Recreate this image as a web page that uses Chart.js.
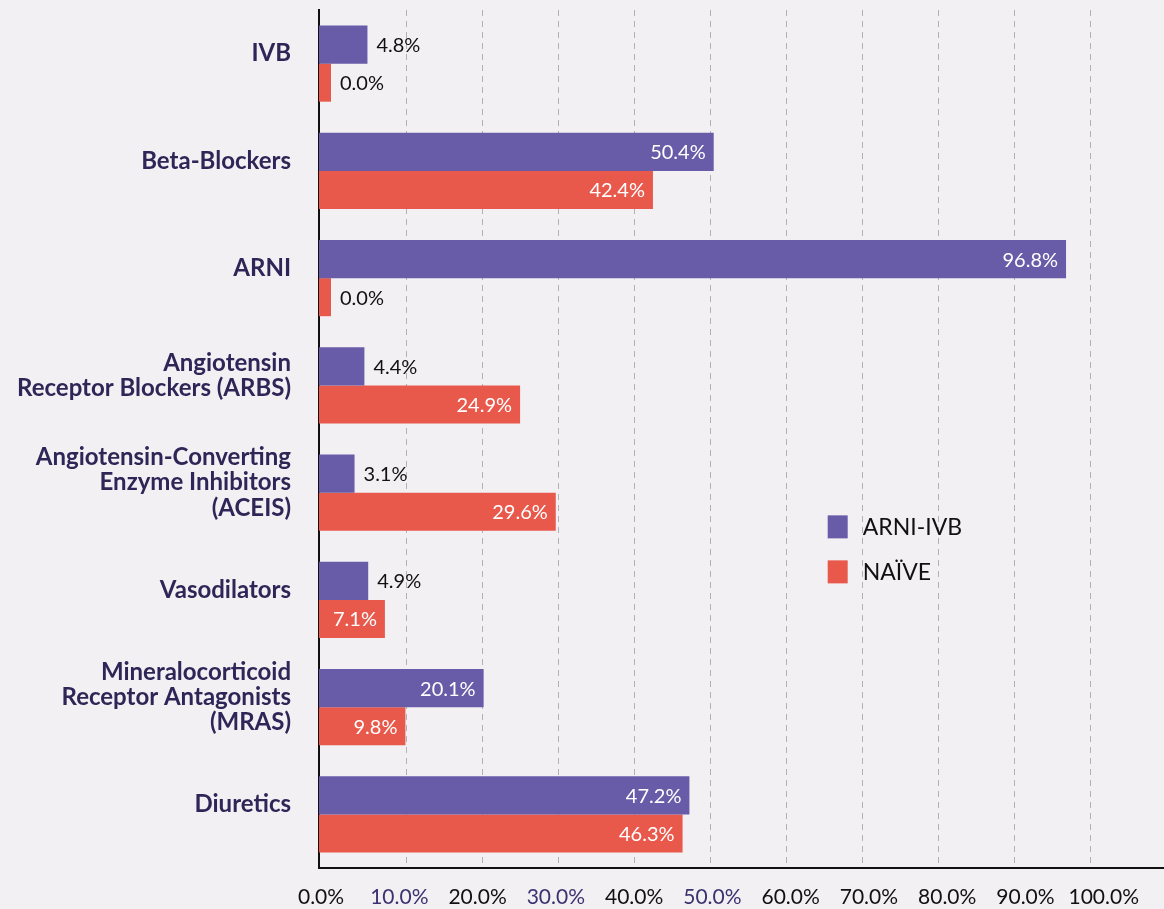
<!DOCTYPE html>
<html>
<head>
<meta charset="utf-8">
<script src="https://cdn.jsdelivr.net/npm/chart.js@4.4.1/dist/chart.umd.min.js"></script>
<style>
  html, body { margin: 0; padding: 0; background: #f2f0f3; }
  #wrap { position: relative; width: 1164px; height: 909px; }
</style>
</head>
<body>
<div id="wrap"><canvas id="usageChart"></canvas></div>
<script>
  const categories = [
    "IVB",
    "Beta-Blockers",
    "ARNI",
    ["Angiotensin", "Receptor Blockers (ARBS)"],
    ["Angiotensin-Converting", "Enzyme Inhibitors", "(ACEIS)"],
    "Vasodilators",
    ["Mineralocorticoid", "Receptor Antagonists", "(MRAS)"],
    "Diuretics",
  ];
  const seriesNames = ["ARNI-IVB", "NAÏVE"];
  const arniIvb = [4.8, 50.4, 96.8, 4.4, 3.1, 4.9, 20.1, 47.2];
  const naive = [0.0, 42.4, 0.0, 24.9, 29.6, 7.1, 9.8, 46.3];
  const highlightTicks = [10, 30, 50];

  const PURPLE = "#685ba7";
  const RED = "#e8594c";
  const NAVY = "#2e2657";
  const FONT = "Lato, 'Noto Sans', sans-serif";

  // bar scale: axis line sits a little left of the 0 value
  const barMin = -1.58;
  const barMax = 109.7;

  const barLabels = {
    id: "barLabels",
    afterDatasetsDraw(chart) {
      const ctx = chart.ctx;
      ctx.save();
      ctx.font = "20px " + FONT;
      ctx.textBaseline = "middle";
      chart.data.datasets.forEach((ds, i) => {
        const meta = chart.getDatasetMeta(i);
        meta.data.forEach((bar, j) => {
          const text = ds.data[j].toFixed(1) + "%";
          const w = ctx.measureText(text).width;
          const barW = bar.x - bar.base;
          if (barW >= w + 16) {
            ctx.fillStyle = "#ffffff";
            ctx.textAlign = "right";
            ctx.fillText(text, bar.x - 8, bar.y + 1);
          } else {
            ctx.fillStyle = "#111111";
            ctx.textAlign = "left";
            ctx.fillText(text, bar.x + 9, bar.y + 1);
          }
        });
      });
      ctx.restore();
    },
  };

  const innerLegend = {
    id: "innerLegend",
    afterDraw(chart) {
      const { ctx, chartArea } = chart;
      const x = chartArea.left + chartArea.width * 0.602;
      let y = chartArea.top + chartArea.height * 0.589;
      ctx.save();
      ctx.font = "23px " + FONT;
      ctx.textBaseline = "middle";
      ctx.textAlign = "left";
      chart.data.datasets.forEach((ds) => {
        ctx.fillStyle = ds.backgroundColor;
        ctx.fillRect(x, y, 20, 23);
        ctx.fillStyle = "#111111";
        ctx.fillText(ds.label, x + 35, y + 12);
        y += 45;
      });
      ctx.restore();
    },
  };

  new Chart(document.getElementById("usageChart"), {
    type: "bar",
    data: {
      labels: categories,
      datasets: [
        {
          label: seriesNames[0],
          data: arniIvb,
          backgroundColor: PURPLE,
          base: barMin,
          xAxisID: "x",
        },
        {
          label: seriesNames[1],
          data: naive,
          backgroundColor: RED,
          base: barMin,
          xAxisID: "x",
        },
      ],
    },
    options: {
      indexAxis: "y",
      responsive: true,
      maintainAspectRatio: false,
      animation: false,
      layout: { padding: { top: 10, right: 0, bottom: 0, left: 0 } },
      datasets: {
        bar: { categoryPercentage: 0.71, barPercentage: 1.0 },
      },
      plugins: {
        legend: { display: false },
        tooltip: { enabled: false },
      },
      scales: {
        y: {
          grid: { display: false, drawTicks: false },
          border: { display: true, color: "#111111", width: 2 },
          afterFit(scale) {
            scale.width = 319;
            scale.paddingTop = 0;
            scale.paddingBottom = 0;
          },
          ticks: {
            padding: 28,
            labelOffset: -10,
            color: NAVY,
            font: { family: FONT, size: 24, weight: "bold", lineHeight: 1.05 },
          },
        },
        x: {
          type: "linear",
          position: "bottom",
          min: barMin,
          max: barMax,
          grid: {
            drawTicks: false,
            lineWidth: 1,
            color: (c) => (c.tick && c.tick.value > 0 ? "#b3b1b6" : "rgba(0,0,0,0)"),
          },
          border: { display: true, color: "#111111", width: 2, dash: [6, 5] },
          ticks: { display: false, stepSize: 10, includeBounds: false },
          afterFit(scale) {
            scale.height = 0;
          },
        },
        x2: {
          type: "linear",
          position: "bottom",
          min: -0.26,
          max: 107.7,
          grid: { display: false, drawTicks: false },
          border: { display: false },
          afterFit(scale) {
            scale.height = 41;
            scale.paddingLeft = 0;
            scale.paddingRight = 0;
          },
          ticks: {
            stepSize: 10,
            includeBounds: false,
            padding: 17,
            maxRotation: 0,
            autoSkip: false,
            font: { family: FONT, size: 21 },
            color: (c) => (highlightTicks.includes(c.tick.value) ? "#3b3370" : "#111111"),
            callback: (v) => v.toFixed(1) + "%",
          },
        },
      },
    },
    plugins: [barLabels, innerLegend],
  });
</script>
</body>
</html>
